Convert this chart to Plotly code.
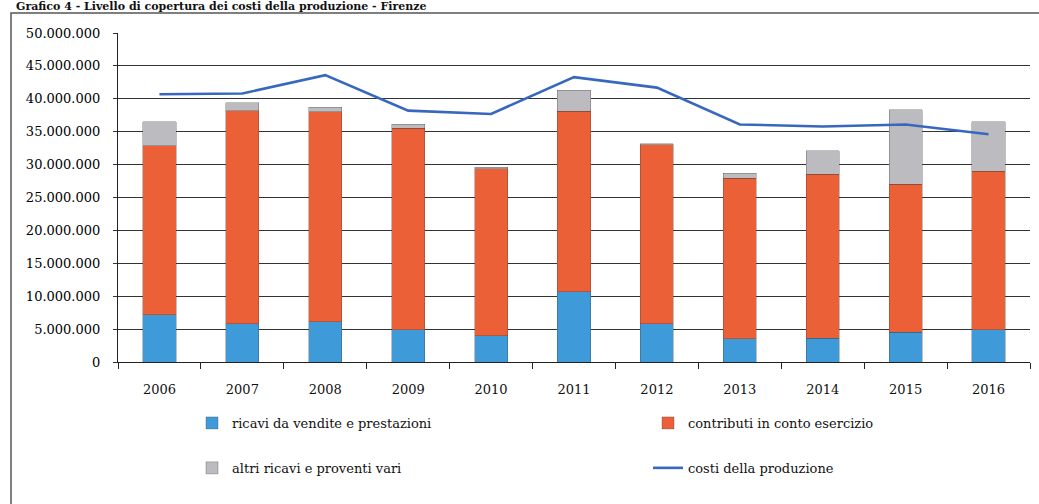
import plotly.graph_objects as go

anni = ["2006", "2007", "2008", "2009", "2010", "2011", "2012", "2013", "2014", "2015", "2016"]
ricavi_vendite = [7200000, 5800000, 6100000, 4900000, 4000000, 10700000, 5800000, 3500000, 3600000, 4500000, 4900000]
contributi_esercizio = [25700000, 32400000, 31900000, 30600000, 25400000, 27400000, 27200000, 24400000, 24900000, 22500000, 24100000]
altri_ricavi = [3600000, 1200000, 700000, 600000, 200000, 3200000, 150000, 800000, 3600000, 11300000, 7500000]
costi_produzione = [40700000, 40800000, 43600000, 38200000, 37700000, 43300000, 41700000, 36100000, 35800000, 36100000, 34600000]
y_ticks = [0, 5000000, 10000000, 15000000, 20000000, 25000000, 30000000, 35000000, 40000000, 45000000, 50000000]

W, H = 1039, 504
L, R, T, B = 118, 9, 33, 142
pw, ph = W - L - R, H - T - B

def px(x):
    return (x - L) / pw

def py(y):
    return (H - B - y) / ph

SERIF = "DejaVu Serif"
edge = dict(color="rgba(70,60,60,0.55)", width=0.6)

fig = go.Figure()
fig.add_trace(go.Bar(x=anni, y=ricavi_vendite, name="ricavi da vendite e prestazioni",
                     marker=dict(color="#3e9ad8", line=edge), legend="legend", legendgroup="a"))
fig.add_trace(go.Bar(x=anni, y=contributi_esercizio, name="contributi in conto esercizio",
                     marker=dict(color="#ec6038", line=edge), legend="legend2", legendgroup="b"))
fig.add_trace(go.Bar(x=anni, y=altri_ricavi, name="altri ricavi e proventi vari",
                     marker=dict(color="#bcbcc0", line=edge), legend="legend", legendgroup="c"))
fig.add_trace(go.Scatter(x=anni, y=costi_produzione, name="costi della produzione", mode="lines",
                         line=dict(color="#3768bd", width=2.6), legend="legend2", legendgroup="d"))

legend_common = dict(orientation="v", yanchor="top", xanchor="left", tracegroupgap=25,
                     font=dict(family=SERIF, size=13, color="#111"), bgcolor="rgba(0,0,0,0)",
                     traceorder="grouped", itemwidth=30)

fig.update_layout(
    width=W, height=H,
    margin=dict(l=L, r=R, t=T, b=B),
    paper_bgcolor="white", plot_bgcolor="white",
    barmode="stack", bargap=0.6,
    separators=",.",
    showlegend=True,
    legend=dict(x=px(192), y=py(408), **legend_common),
    legend2=dict(x=px(648), y=py(408), **legend_common),
    xaxis=dict(type="category", tickson="boundaries", ticks="outside", ticklen=6, tickwidth=1,
               tickcolor="#222", showline=True, linecolor="#222", linewidth=1.2, showgrid=False,
               tickfont=dict(family=SERIF, size=13, color="#111"), ticklabelstandoff=15),
    yaxis=dict(range=[0, 50000000], tickvals=y_ticks, tickformat=",.0f", showgrid=True,
               gridcolor="#333", gridwidth=1.3, zeroline=False, showline=True, linecolor="#222",
               linewidth=1.2, ticks="outside", ticklen=4, tickcolor="#333",
               tickfont=dict(family=SERIF, size=13, color="#000"), ticklabelstandoff=10),
    shapes=[dict(type="rect", xref="paper", yref="paper", x0=px(11), x1=px(1060), y0=py(530), y1=py(13),
                 line=dict(color="#555", width=1.5), fillcolor="rgba(0,0,0,0)", layer="below")],
    annotations=[dict(text="<b>Grafico 4 - Livello di copertura dei costi della produzione - Firenze</b>",
                      xref="paper", yref="paper", x=px(14), y=py(6.5), xanchor="left", yanchor="middle",
                      showarrow=False, font=dict(family=SERIF, size=11, color="#111"))],
)

fig.write_html("out.html")
